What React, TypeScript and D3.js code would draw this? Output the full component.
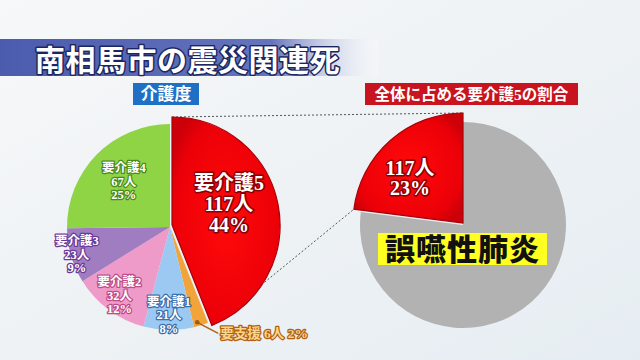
import React from "react";
import * as d3 from "d3";

const categories = ["要介護5", "要支援", "要介護1", "要介護2", "要介護3", "要介護4"];
const counts = [117, 6, 21, 32, 23, 67];
const percents = [44, 2, 8, 12, 9, 25];
const rightLabels = ["要介護5", "その他"];
const rightShares = [23, 77];
const rightCount = 117;

const title = "南相馬市の震災関連死";
const leftHeading = "介護度";
const rightHeading = "全体に占める要介護5の割合";
const causeLabel = "誤嚥性肺炎";

const colors = ["#e8000c", "#f2a43a", "#9cc9f2", "#ef9bc9", "#a07dc0", "#8fd445"];
const strokes = ["#8a0006", "#a85a10", "#3a6fb0", "#c04a8a", "#6a3a9a", "#4a8a1e"];
const labelR = [60, 100, 88, 85, 97, 65];
const labelDY = [-12, 0, 0, 0, 0, 0];

const FONT = '"Liberation Serif","Noto Sans CJK JP",serif';
const JP = '"Noto Sans CJK JP",sans-serif';

export default function App() {
  const W = 640, H = 360;
  const lc = { x: 170, y: 227 };
  const R = 103;
  const pie = d3.pie<number>().sort(null).value((d) => d);
  const leftArcs = pie(counts);
  const arc = d3.arc<d3.PieArcDatum<number>>().innerRadius(0).outerRadius(R);
  const redArc = d3.arc<d3.PieArcDatum<number>>().innerRadius(0).outerRadius(108);

  const rc = { x: 463, y: 225 };
  const rightArcs = d3.pie<number>().sort(null).startAngle(-2 * Math.PI * rightShares[0] / 100).endAngle(2 * Math.PI - 2 * Math.PI * rightShares[0] / 100)(rightShares);
  const rArc = d3.arc<d3.PieArcDatum<number>>().innerRadius(0).outerRadius(103);
  const rRedArc = d3.arc<d3.PieArcDatum<number>>().innerRadius(0).outerRadius(110);

  const pt = (cx: number, cy: number, r: number, a: number) => [cx + r * Math.sin(a), cy - r * Math.cos(a)];

  const red = leftArcs[0];
  const redOff = { x: 2, y: -2 };
  const redTop = pt(lc.x + redOff.x, lc.y + redOff.y, 108, red.startAngle);
  const redBot = pt(lc.x + redOff.x, lc.y + redOff.y, 108, red.endAngle);
  const rRed = rightArcs[0];
  const rOff = { x: 0, y: -2 };
  const rTop = pt(rc.x + rOff.x, rc.y + rOff.y, 110, rRed.endAngle);
  const rLeft = pt(rc.x + rOff.x, rc.y + rOff.y, 110, rRed.startAngle);

  const labelText = (i: number) => {
    const a = leftArcs[i];
    const mid = (a.startAngle + a.endAngle) / 2;
    const [x, y] = pt(lc.x, lc.y, labelR[i], mid);
    return { x, y: y + labelDY[i] };
  };

  const outlined = (fill: string, stroke: string, sw: number) => ({
    fill, stroke, strokeWidth: sw, paintOrder: "stroke" as const, strokeLinejoin: "round" as const,
  });

  return (
    <svg width={W} height={H} style={{ position: "absolute", left: 0, top: 0 }}>
      <defs>
        <linearGradient id="bg" x1="0" y1="0" x2="1" y2="1">
          <stop offset="0" stopColor="#f7f8f9" />
          <stop offset="0.5" stopColor="#eef2f5" />
          <stop offset="1" stopColor="#e6edf2" />
        </linearGradient>
        <linearGradient id="band" x1="0" y1="0" x2="1" y2="0">
          <stop offset="0" stopColor="#4b5bae" />
          <stop offset="0.72" stopColor="#6474bc" />
          <stop offset="1" stopColor="#ffffff" stopOpacity="0.2" />
        </linearGradient>
        <radialGradient id="redg" cx="0.5" cy="0.5" r="0.6">
          <stop offset="0" stopColor="#ff0a0a" />
          <stop offset="0.8" stopColor="#ec0008" />
          <stop offset="1" stopColor="#cc0008" />
        </radialGradient>
      </defs>
      <rect width={W} height={H} fill="url(#bg)" />
      <rect x={0} y={39} width={378} height={37} fill="url(#band)" />
      <text x={35} y={71} fontFamily={JP} fontWeight={700} fontSize={30} style={outlined("#ffffff", "#1c2660", 3)} letterSpacing={0.5}>
        {title}
      </text>

      <rect x={133} y={83} width={66} height={22} fill="#1f6fc4" />
      <text x={166} y={100} textAnchor="middle" fontFamily={JP} fontWeight={700} fontSize={17} fill="#fff">{leftHeading}</text>
      <rect x={365} y={83} width={213} height={22} fill="#c8141e" />
      <text x={471.5} y={100} textAnchor="middle" fontFamily={FONT} fontWeight={700} fontSize={15.5} fill="#fff">{rightHeading}</text>

      {/* dashed connectors */}
      <line x1={redTop[0]} y1={redTop[1]} x2={rTop[0]} y2={rTop[1]} stroke="#555" strokeWidth={1} strokeDasharray="2,2" />
      <line x1={redBot[0]} y1={redBot[1]} x2={rLeft[0]} y2={rLeft[1]} stroke="#555" strokeWidth={1} strokeDasharray="2,2" />

      {/* left pie */}
      <g transform={`translate(${lc.x},${lc.y})`}>
        {leftArcs.map((a, i) => i === 0 ? null : (
          <path key={categories[i]} d={arc(a) || ""} fill={colors[i]} />
        ))}
      </g>
      <g transform={`translate(${lc.x + redOff.x},${lc.y + redOff.y})`}>
        <path d={redArc(red) || ""} fill="url(#redg)" stroke="#a80008" strokeWidth={1.2} />
      </g>

      {/* left labels */}
      {leftArcs.map((a, i) => {
        if (i === 1) return null;
        const p = labelText(i);
        const big = i === 0;
        const fs = big ? 20 : 12.5;
        const lh = big ? 21 : 13.6;
        const lines = [categories[i], `${counts[i]}人`, `${percents[i]}%`];
        return (
          <text key={"l" + i} x={p.x} y={p.y - lh + fs * 0.35} textAnchor="middle" fontFamily={FONT} fontWeight={700} fontSize={fs} style={outlined("#ffffff", strokes[i], big ? 3 : 2.5)}>
            {lines.map((t, k) => (
              <tspan key={k} x={p.x} dy={k === 0 ? 0 : lh}>{t}</tspan>
            ))}
          </text>
        );
      })}
      {(() => {
        const p = labelText(1);
        return (
          <g>
            <line x1={p.x - 3} y1={p.y} x2={p.x + 18} y2={p.y + 11} stroke="#b06010" strokeWidth={1.5} />
            <circle cx={p.x - 3} cy={p.y} r={2.2} fill="#a05a10" />
            <text x={p.x + 20} y={p.y + 16} fontFamily={FONT} fontWeight={700} fontSize={13.5} style={outlined("#fcd48c", "#b0600f", 2.5)}>
              {`${categories[1]} ${counts[1]}人 ${percents[1]}%`}
            </text>
          </g>
        );
      })()}

      {/* right pie */}
      <g transform={`translate(${rc.x},${rc.y})`}>
        <path d={rArc(rightArcs[1]) || ""} fill="#b2b2b2" />
      </g>
      <g transform={`translate(${rc.x + rOff.x},${rc.y + rOff.y})`}>
        <path d={rRedArc(rRed) || ""} fill="url(#redg)" stroke="#a80008" strokeWidth={1.2} />
      </g>
      {(() => {
        const mid = (rRed.startAngle + rRed.endAngle) / 2;
        const [x0, y0] = pt(rc.x, rc.y, 62, mid);
        const x = x0 - 12;
        return (
          <text x={x} y={y0 - 3} textAnchor="middle" fontFamily={FONT} fontWeight={700} fontSize={20} style={outlined("#ffffff", "#8a0006", 3)}>
            <tspan x={x} dy={0}>{`${rightCount}人`}</tspan>
            <tspan x={x} dy={20}>{`${rightShares[0]}%`}</tspan>
          </text>
        );
      })()}
      <rect x={378} y={233} width={169} height={32} fill="#ffff22" />
      <text x={462.5} y={260} textAnchor="middle" fontFamily={JP} fontWeight={900} fontSize={30} fill="#111" letterSpacing={1}>{causeLabel}</text>
    </svg>
  );
}
